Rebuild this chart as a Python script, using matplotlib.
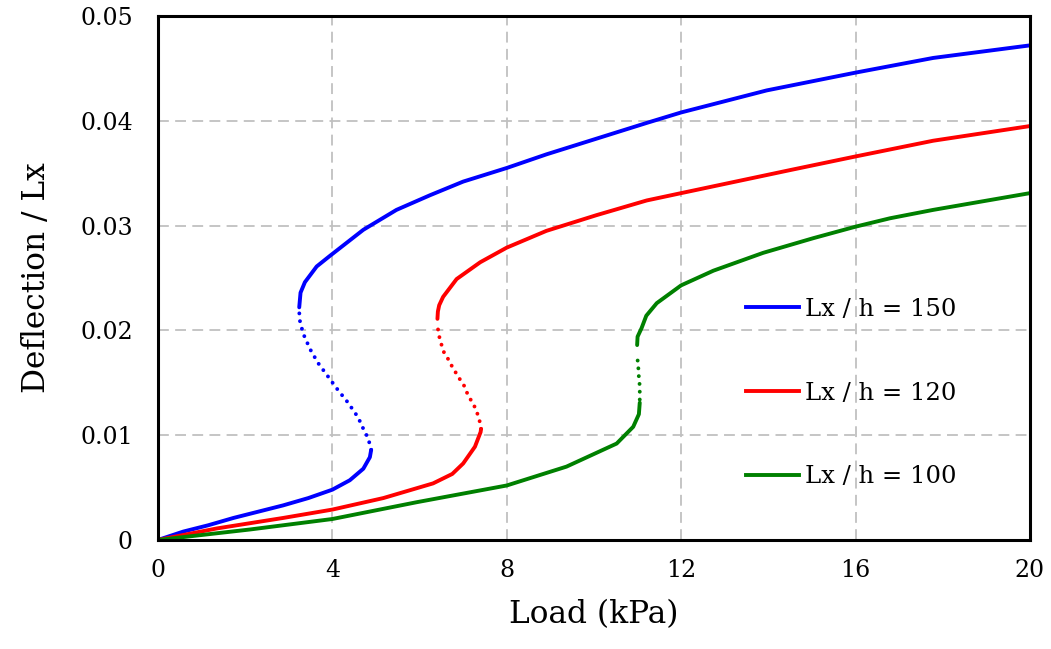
import matplotlib
matplotlib.use("Agg")
import matplotlib.pyplot as plt
from matplotlib.lines import Line2D

# ---- data (Load kPa, Deflection/Lx) ----
labels = ["Lx / h = 150", "Lx / h = 120", "Lx / h = 100"]
colors = ["#0000ff", "#ff0000", "#008000"]

# Lx/h = 150
b150_low_x = [0, 0.58, 1.15, 1.73, 2.3, 2.87, 3.45, 4.0, 4.4, 4.71, 4.86, 4.89]
b150_low_y = [0, 0.0008, 0.0014, 0.0021, 0.0027, 0.0033, 0.0040, 0.0048, 0.0057, 0.0068, 0.0079, 0.0086]
b150_mid_x = [4.89, 4.86, 4.82, 4.70, 4.59, 4.36, 4.13, 3.90, 3.67, 3.49, 3.33, 3.25, 3.24]
b150_mid_y = [0.0086, 0.0091, 0.0097, 0.0107, 0.0117, 0.0131, 0.0143, 0.0156, 0.0169, 0.0182, 0.0197, 0.0210, 0.0218]
b150_up_x = [3.24, 3.27, 3.37, 3.64, 3.94, 4.71, 5.47, 6.24, 7.0, 8.0, 8.91, 10.06, 11.21, 12.0, 13.96, 16.0, 17.78, 20.0]
b150_up_y = [0.0222, 0.0236, 0.0246, 0.0261, 0.0271, 0.0296, 0.0315, 0.0329, 0.0342, 0.0355, 0.0368, 0.0383, 0.0398, 0.0408, 0.0429, 0.0446, 0.0460, 0.0472]

# Lx/h = 120
b120_low_x = [0, 1.35, 2.87, 4.0, 5.17, 6.31, 6.75, 7.0, 7.27, 7.4, 7.41]
b120_low_y = [0, 0.0011, 0.0021, 0.0029, 0.0040, 0.0054, 0.0063, 0.0073, 0.0089, 0.0103, 0.0106]
b120_mid_x = [7.41, 7.37, 7.29, 7.20, 7.11, 7.04, 6.93, 6.84, 6.74, 6.65, 6.56, 6.49, 6.44, 6.42, 6.41]
b120_mid_y = [0.0106, 0.0115, 0.0125, 0.0132, 0.0138, 0.0146, 0.0153, 0.0159, 0.0166, 0.0173, 0.0179, 0.0188, 0.0196, 0.0202, 0.0208]
b120_up_x = [6.41, 6.42, 6.45, 6.54, 6.85, 7.39, 8.0, 8.91, 10.06, 11.21, 12.0, 14.5, 16.0, 17.78, 20.0]
b120_up_y = [0.0211, 0.0218, 0.0224, 0.0232, 0.0249, 0.0265, 0.0279, 0.0295, 0.0310, 0.0324, 0.0331, 0.0353, 0.0366, 0.0381, 0.0395]

# Lx/h = 100
b100_low_x = [0, 2.11, 4.0, 5.93, 8.0, 9.37, 10.52, 10.9, 11.03, 11.05]
b100_low_y = [0, 0.0010, 0.0020, 0.0036, 0.0052, 0.0070, 0.0092, 0.0108, 0.0120, 0.0131]
b100_mid_x = [11.05, 11.05, 11.03, 11.02, 11.00]
b100_mid_y = [0.0134, 0.0147, 0.0155, 0.0163, 0.0172]
b100_up_x = [10.99, 11.0, 11.09, 11.2, 11.44, 12.0, 12.74, 13.88, 15.03, 16.0, 16.79, 17.78, 20.0]
b100_up_y = [0.0186, 0.0194, 0.0202, 0.0214, 0.0226, 0.0243, 0.0257, 0.0274, 0.0288, 0.0299, 0.0307, 0.0315, 0.0331]

curves = [
    (b150_low_x, b150_low_y, b150_mid_x, b150_mid_y, b150_up_x, b150_up_y),
    (b120_low_x, b120_low_y, b120_mid_x, b120_mid_y, b120_up_x, b120_up_y),
    (b100_low_x, b100_low_y, b100_mid_x, b100_mid_y, b100_up_x, b100_up_y),
]

x_ticks = [0, 4, 8, 12, 16, 20]
y_ticks = [0, 0.01, 0.02, 0.03, 0.04, 0.05]
y_tick_labels = ["0", "0.01", "0.02", "0.03", "0.04", "0.05"]

plt.rcParams["font.family"] = ["DejaVu Serif"]

fig = plt.figure(figsize=(10.51, 6.49), dpi=100)
ax = fig.add_axes([0.1503, 0.168, 0.8297, 0.8073])

lw = 2.8
for (lx, ly, mx, my, ux, uy), c in zip(curves, colors):
    ax.plot(lx, ly, color=c, lw=lw, solid_capstyle="round",
            solid_joinstyle="round", zorder=3)
    ax.plot(mx, my, color=c, lw=lw, linestyle=(0, (0.01, 2.0)),
            dash_capstyle="round", zorder=3)
    ax.plot(ux, uy, color=c, lw=lw, solid_capstyle="round",
            solid_joinstyle="round", zorder=3)

ax.set_xlim(0, 20)
ax.set_ylim(0, 0.05)
ax.set_xticks(x_ticks)
ax.set_xticklabels([str(t) for t in x_ticks])
ax.set_yticks(y_ticks)
ax.set_yticklabels(y_tick_labels)
ax.tick_params(length=0, labelsize=17)
ax.tick_params(axis="y", pad=18)
ax.tick_params(axis="x", pad=14)
ax.grid(True, color="#c0c0c0", linestyle=(0, (6, 3.5)), linewidth=1.3, zorder=0)
for s in ax.spines.values():
    s.set_linewidth(2.2)
    s.set_color("black")
    s.set_zorder(4)

ax.set_xlabel("Load (kPa)", fontsize=22.5, labelpad=12)
ax.set_ylabel("Deflection / Lx", fontsize=22.5, labelpad=20)

handles = [Line2D([0], [0], color=c, lw=lw) for c in colors]
leg = ax.legend(handles, labels, loc="center left", bbox_to_anchor=(0.674, 0.2805),
                frameon=False, fontsize=17.5, handlelength=2.2, handletextpad=0.25,
                labelspacing=2.5, borderpad=0, borderaxespad=0)

fig.savefig("out.png", dpi=100)
